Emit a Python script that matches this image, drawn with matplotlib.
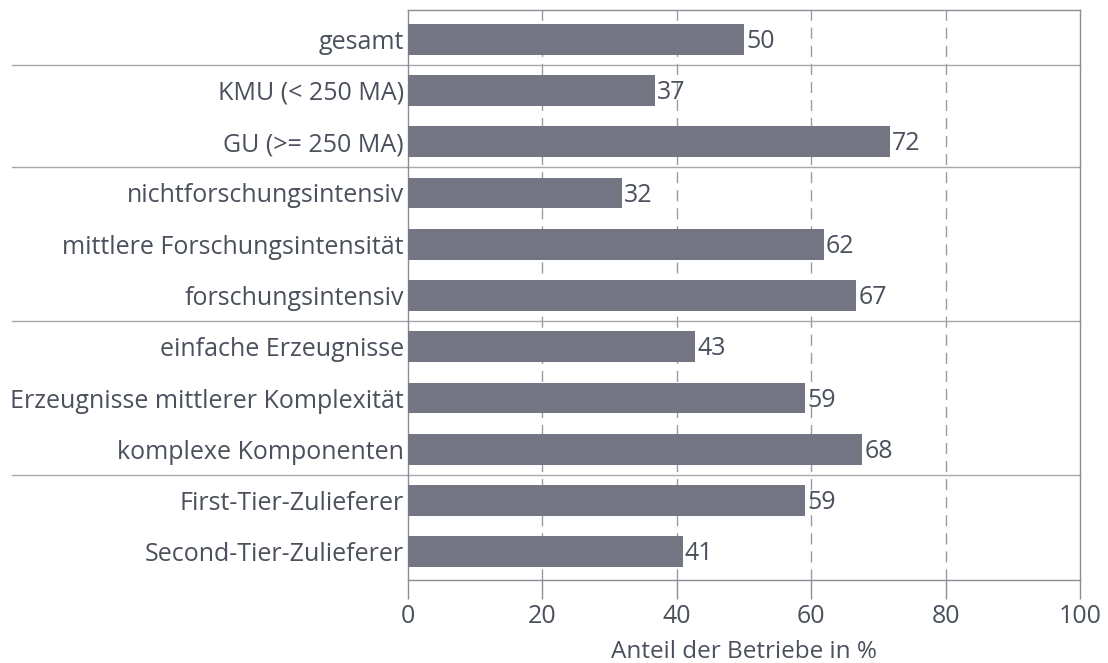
import matplotlib
matplotlib.use("Agg")
import matplotlib.pyplot as plt

plt.rcParams['font.family'] = ['Open Sans', 'DejaVu Sans']

categories = [
    "gesamt",
    "KMU (< 250 MA)",
    "GU (>= 250 MA)",
    "nichtforschungsintensiv",
    "mittlere Forschungsintensität",
    "forschungsintensiv",
    "einfache Erzeugnisse",
    "Erzeugnisse mittlerer Komplexität",
    "komplexe Komponenten",
    "First-Tier-Zulieferer",
    "Second-Tier-Zulieferer",
]
values = [50.0, 36.8, 71.7, 31.8, 61.9, 66.7, 42.7, 59.1, 67.6, 59.1, 40.9]
value_labels = ["50", "37", "72", "32", "62", "67", "43", "59", "68", "59", "41"]
# group separators sit between these bar positions
separators = [0.5, 2.5, 5.5, 8.5]
xticks = [0, 20, 40, 60, 80, 100]

text_col = "#4a505c"
bar_col = "#737682"
line_col = "#8a8d96"

fig = plt.figure(figsize=(11.08, 6.63), dpi=100)
ax = fig.add_axes([408 / 1108, 1 - 580 / 663, 672 / 1108, 570 / 663])

pos = list(range(len(categories)))
ax.barh(pos, values, height=0.6, color=bar_col, zorder=3)

for p, v, lab in zip(pos, values, value_labels):
    ax.annotate(lab, (v, p), xytext=(1.5, -1.5), textcoords="offset points",
                va="center", ha="left", fontsize=18, color=text_col)

for xv in [20, 40, 60, 80]:
    ax.axvline(xv, color="#9a9ca3", lw=1, ls=(0, (8, 5)), zorder=1)

for s in separators:
    ax.plot([-0.59, 1], [s, s], transform=ax.get_yaxis_transform(),
            color="#a6a8ae", lw=1, clip_on=False, zorder=2)

ax.set_xlim(0, 100)
ax.set_ylim(10.55, -0.57)
ax.set_yticks(pos)
ax.set_yticklabels(categories, fontsize=18, color=text_col)
ax.tick_params(axis="y", length=0, pad=3)
ax.set_xticks(xticks)
ax.set_xticklabels([str(x) for x in xticks], fontsize=18, color=text_col)
ax.tick_params(axis="x", length=14, width=1, color=line_col, pad=3)
ax.set_xlabel("Anteil der Betriebe in %", fontsize=17.5, color=text_col, labelpad=8)

for sp in ax.spines.values():
    sp.set_color(line_col)
    sp.set_linewidth(1)

fig.savefig("out.png", dpi=100)
